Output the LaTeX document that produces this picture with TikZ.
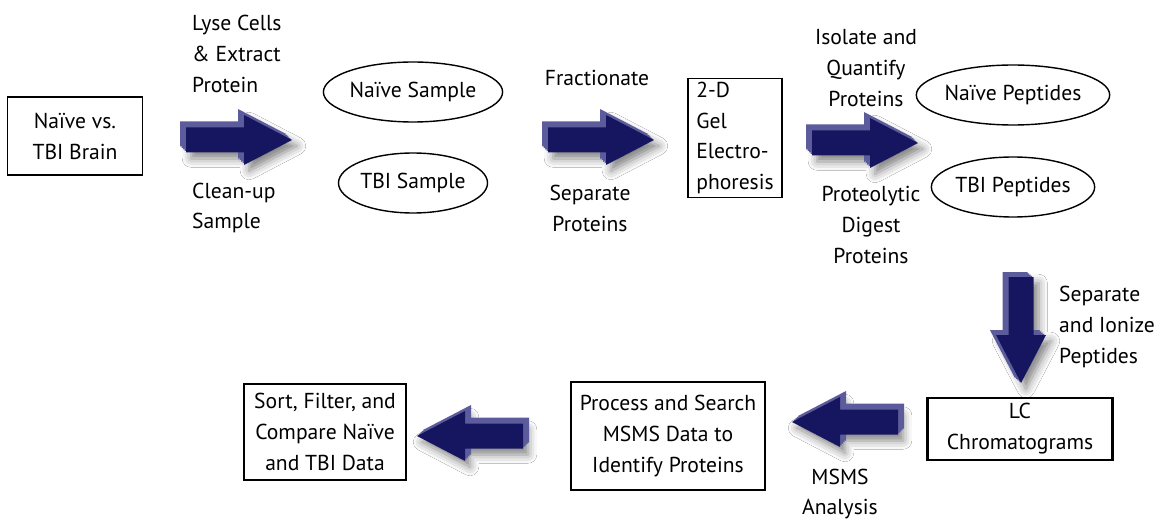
\documentclass[tikz,border=0pt]{standalone}
\usepackage{fontspec}
\setmainfont{PT Sans}
\usetikzlibrary{shapes.geometric,shadows.blur}
\definecolor{arrownavy}{RGB}{22,22,96}
\definecolor{arrowside}{RGB}{92,92,156}

\tikzset{
    pics/blkarrow/.style n args={3}{code={
        % soft shadow
        \path[shift={(5,6)}, rotate=#1, blur shadow={shadow xshift=0pt, shadow yshift=0pt,
            shadow blur radius=5pt, shadow opacity=50}]
            (-53,-12.5) -- (5,-12.5) -- (5,-25) -- (53,0) -- (5,25) -- (5,12.5) -- (-53,12.5) -- cycle;
        % side faces
        \foreach \k in {4,3,...,1}
            \fill[arrowside, shift={(\k*#2,\k*#3)}, rotate=#1]
                (-53,-12.5) -- (5,-12.5) -- (5,-25) -- (53,0) -- (5,25) -- (5,12.5) -- (-53,12.5) -- cycle;
        % front face
        \fill[arrownavy, rotate=#1]
            (-53,-12.5) -- (5,-12.5) -- (5,-25) -- (53,0) -- (5,25) -- (5,12.5) -- (-53,12.5) -- cycle;
    }}
}

\begin{document}
\begin{tikzpicture}[x=0.02cm, y=-0.02cm,
    every node/.style={font=\fontsize{12.3}{17.6}\selectfont},
    box/.style={draw, line width=0.8pt, align=center, inner sep=2pt},
    oval/.style={draw, ellipse, line width=0.8pt, inner sep=0pt},
    lbl/.style={align=center}]
    \useasboundingbox[fill=white] (0,0) rectangle (1165,520);

    % Start
    \node[box, minimum width=2.7cm, minimum height=1.56cm] (brain) at (75,136) {Naïve vs.\\TBI Brain};

    % Samples
    \node[lbl, align=left, anchor=west] (lyse) at (186,54) {Lyse Cells\\\& Extract\\Protein};
    \node[lbl, align=left, anchor=west] (clean) at (186,208) {Clean-up\\Sample};
    \node[oval, minimum width=2.6cm, minimum height=1.2cm] (nsamp) at (413,92) {Naïve Sample};
    \node[oval, minimum width=2.8cm, minimum height=1.2cm] (tsamp) at (413,183) {TBI Sample};

    % Gel
    \node[lbl] (frac) at (597,78) {Fractionate};
    \node[lbl] (sepp) at (590,208) {Separate\\Proteins};
    \node[box, align=left, minimum width=1.88cm, minimum height=2.38cm] (gel) at (735,138) {2-D\\Gel\\Electro-\\phoresis};

    % Peptides
    \node[lbl] (iso) at (866,68) {Isolate and\\Quantify\\Proteins};
    \node[lbl] (digest) at (871,225) {Proteolytic\\Digest\\Proteins};
    \node[oval, minimum width=2.94cm, minimum height=1.2cm] (npep) at (1013,95) {Naïve Peptides};
    \node[oval, minimum width=2.94cm, minimum height=1.2cm] (tpep) at (1013,187) {TBI Peptides};

    % LC / MSMS
    \node[lbl, align=left, anchor=west] (ion) at (1053,327) {Separate\\and Ionize\\Peptides};
    \node[box, line width=1.4pt, minimum width=3.7cm, minimum height=1.24cm] (lc) at (1020,429) {LC\\Chromatograms};
    \node[lbl] (msms) at (840,494) {MSMS\\Analysis};
    \node[box, line width=1.4pt, minimum width=3.88cm, minimum height=2.16cm] (proc) at (668,436) {Process and Search\\MSMS Data to\\Identify Proteins};
    \node[box, minimum width=3.24cm, minimum height=1.92cm] (sort) at (325,432) {Sort, Filter, and\\Compare Naïve\\and TBI Data};

    % Block arrows
    \pic (a1) at (239,140) {blkarrow={0}{-1.5}{-1.5}};
    \pic (a2) at (601,140) {blkarrow={0}{-1.5}{-1.5}};
    \pic (a3) at (865,143) {blkarrow={0}{-1.5}{-1.5}};
    \pic (a4) at (1021,330) {blkarrow={-90}{-1.5}{-1.2}};
    \pic (a5) at (845,422) {blkarrow={180}{1.5}{-1.5}};
    \pic (a6) at (470,436) {blkarrow={180}{1.5}{-1.5}};
\end{tikzpicture}
\end{document}
